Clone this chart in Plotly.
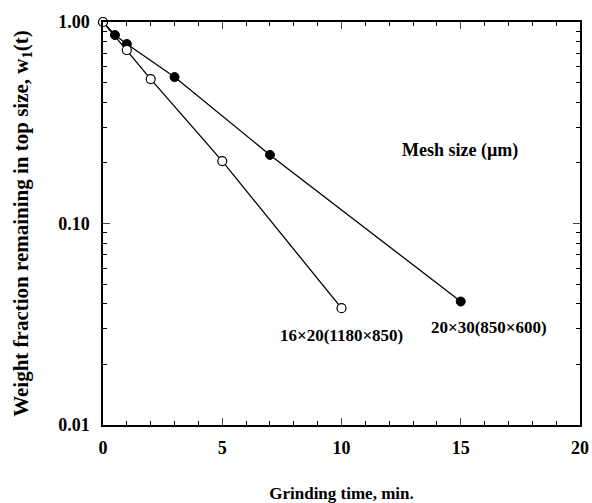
import plotly.graph_objects as go

# Data
t_20x30 = [0, 0.5, 1, 3, 7, 15]
w_20x30 = [1.0, 0.862, 0.778, 0.533, 0.219, 0.041]
t_16x20 = [0, 1, 2, 5, 10]
w_16x20 = [1.0, 0.726, 0.521, 0.204, 0.038]
label_20x30 = "20×30(850×600)"
label_16x20 = "16×20(1180×850)"
x_ticks = [0, 5, 10, 15, 20]
y_ticks = [0.01, 0.1, 1.0]
y_ticktext = ["0.01", "0.10", "1.00"]

FONT = "Liberation Serif"

fig = go.Figure()
fig.add_trace(go.Scatter(
    x=t_20x30, y=w_20x30, mode="lines+markers", cliponaxis=False,
    line=dict(color="black", width=1.3),
    marker=dict(symbol="circle", size=9, color="black", line=dict(color="black", width=1)),
    showlegend=False))
fig.add_trace(go.Scatter(
    x=t_16x20, y=w_16x20, mode="lines+markers", cliponaxis=False,
    line=dict(color="black", width=1.3),
    marker=dict(symbol="circle", size=9, color="white", line=dict(color="black", width=1.2)),
    showlegend=False))

minor_y = [m * 10 ** e for e in (-2, -1) for m in range(2, 10)]

fig.update_layout(
    width=592, height=503,
    margin=dict(l=103, r=12, t=22, b=78),
    paper_bgcolor="white", plot_bgcolor="white",
    font=dict(family=FONT, color="black", size=16),
    xaxis=dict(
        range=[0, 20], tickvals=x_ticks, ticks="inside", ticklen=7, tickwidth=1,
        showline=True, linecolor="black", linewidth=1.5, mirror="allticks",
        showgrid=False, zeroline=False, ticklabelstandoff=6, automargin=False,
        tickfont=dict(family=FONT, size=18, color="black", weight="bold"),
        minor=dict(dtick=1, tick0=0, ticks="inside", ticklen=4, tickcolor="black", showgrid=False),
        title=dict(text="<b>Grinding time, min.</b>", standoff=36,
                   font=dict(family=FONT, size=17, color="black")),
    ),
    yaxis=dict(
        type="log", range=[-2, 0], tickvals=y_ticks, ticktext=y_ticktext,
        ticks="inside", ticklen=7, tickwidth=1,
        showline=True, linecolor="black", linewidth=1.5, mirror="allticks",
        showgrid=False, zeroline=False, ticklabelstandoff=8, automargin=False,
        tickfont=dict(family=FONT, size=18, color="black", weight="bold"),
        minor=dict(tickvals=minor_y, ticks="inside", ticklen=4, tickcolor="black", showgrid=False),
        title=dict(text="<b>Weight fraction remaining in top size, w<sub>1</sub>(t)</b>", standoff=24,
                   font=dict(family=FONT, size=21, color="black")),
    ),
    annotations=[
        dict(x=14.97, y=-0.64, xref="x", yref="y", text="<b>Mesh size (µm)</b>",
             showarrow=False, font=dict(family=FONT, size=18, color="black")),
        dict(x=9.98, y=-1.558, xref="x", yref="y", text="<b>" + label_16x20 + "</b>",
             showarrow=False, font=dict(family=FONT, size=17, color="black")),
        dict(x=16.18, y=-1.514, xref="x", yref="y", text="<b>" + label_20x30 + "</b>",
             showarrow=False, font=dict(family=FONT, size=17, color="black")),
    ],
)

fig.write_html("out.html")
